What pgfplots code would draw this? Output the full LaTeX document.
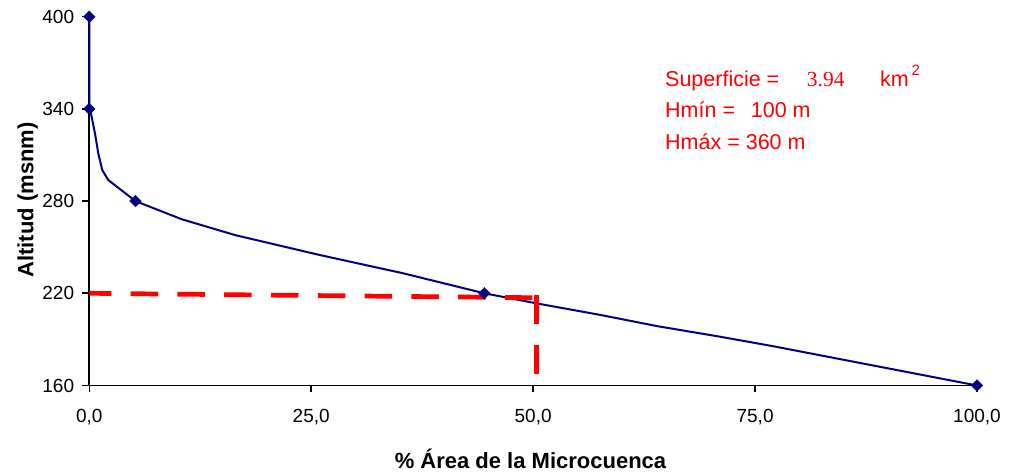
\documentclass[border=0pt]{standalone}
\usepackage{pgfplots}
\pgfplotsset{compat=1.18}
\usepackage{fontspec}
\setmainfont{Liberation Sans}
\newfontfamily\timesfont{Liberation Serif}
\definecolor{navy}{RGB}{0,0,128}

\begin{document}
\begin{tikzpicture}
\path[use as bounding box] (0pt,0pt) rectangle (1009pt,473pt);
\begin{axis}[
  at={(89.3pt,87.5pt)}, anchor=south west,
  scale only axis, width=887.7pt, height=368.8pt,
  xmin=0, xmax=100, ymin=160, ymax=400,
  axis line style={draw=none},
  xtick={0,25,50,75,100}, ytick={160,220,280,340,400},
  xtick pos=bottom, ytick pos=left,
  tick align=outside,
  major tick length=7pt,
  tick style={draw=black, line width=1.6pt},
  /pgf/number format/assume math mode=true,
  ticklabel style={font=\fontsize{19}{21}\selectfont, inner sep=0pt},
  xticklabel style={anchor=north, yshift=-17pt,
    /pgf/number format/fixed, /pgf/number format/fixed zerofill,
    /pgf/number format/precision=1, /pgf/number format/use comma},
  yticklabel style={anchor=east, xshift=-8pt},
  xlabel={\% Área de la Microcuenca},
  ylabel={Altitud (msnm)},
  label style={font=\bfseries\fontsize{22}{24}\selectfont},
  xlabel style={at={(axis description cs:0.497,-0.2264)}, anchor=base},
  ylabel style={at={(axis description cs:-0.063,0.503)}, anchor=base},
  clip=false,
]
% ejes izquierdo e inferior, con marcas hacia fuera
\draw[black, line width=1.8pt] (rel axis cs:0,1) -- (rel axis cs:0,0) -- (rel axis cs:1,0);
\pgfplotsinvokeforeach{0,25,50,75,100}{
  \draw[black, line width=1.6pt] (axis cs:#1,160) -- ++(0pt,-6pt);
}
\pgfplotsinvokeforeach{160,220,280,340,400}{
  \draw[black, line width=1.6pt] (axis cs:0,#1) -- ++(-7pt,0pt);
}
% curva hipsometrica
\addplot[navy, line width=2pt, line join=round] coordinates {
  (0,400) (0,340) (0.08,340) (0.64,324.1) (1.01,311.1) (1.46,300.2)
  (2.14,293.7) (5.2,280) (10.41,268.2) (16.41,257.9) (25.97,244.9)
  (35.37,233.0) (44.5,220) (50.8,213) (57.5,206) (64,198.6) (71,191.8)
  (77,185.6) (100,160)
};
\addplot[only marks, mark=square*, mark size=4.1pt, mark options={rotate=45, fill=navy, draw=navy}] coordinates {
  (0,400) (0,340) (5.2,280) (44.5,220) (100,160)
};
% mediana
\addplot[red, line width=4.7pt, dash pattern=on 27.5pt off 19.3pt, dash phase=5.5pt] coordinates {
  (0,220.0) (50.4,217.1)
};
\addplot[red, line width=4.7pt, dash pattern=on 29pt off 21pt] coordinates {
  (50.4,218.9) (50.4,166.4)
};
\node[anchor=base west, text=red, font=\fontsize{21.5}{23}\selectfont, inner sep=0pt] at (axis cs:64.85,354.4) {Superficie =};
\node[anchor=base west, text=red, font=\timesfont\fontsize{21.5}{23}\selectfont, inner sep=0pt] at (axis cs:80.82,354.4) {3.94};
\node[anchor=base west, text=red, font=\fontsize{21.5}{23}\selectfont, inner sep=0pt] at (axis cs:89.05,354.4) {km};
\node[anchor=base west, text=red, font=\fontsize{15}{16}\selectfont, inner sep=0pt] at (axis cs:92.6,361.5) {2};
\node[anchor=base west, text=red, font=\fontsize{21.5}{23}\selectfont, inner sep=0pt] at (axis cs:64.85,334.1) {Hmín =};
\node[anchor=base west, text=red, font=\fontsize{21.5}{23}\selectfont, inner sep=0pt] at (axis cs:74.5,334.1) {100 m};
\node[anchor=base west, text=red, font=\fontsize{21.5}{23}\selectfont, inner sep=0pt] at (axis cs:64.85,313.3) {Hmáx = 360 m};
\end{axis}
\end{tikzpicture}
\end{document}
